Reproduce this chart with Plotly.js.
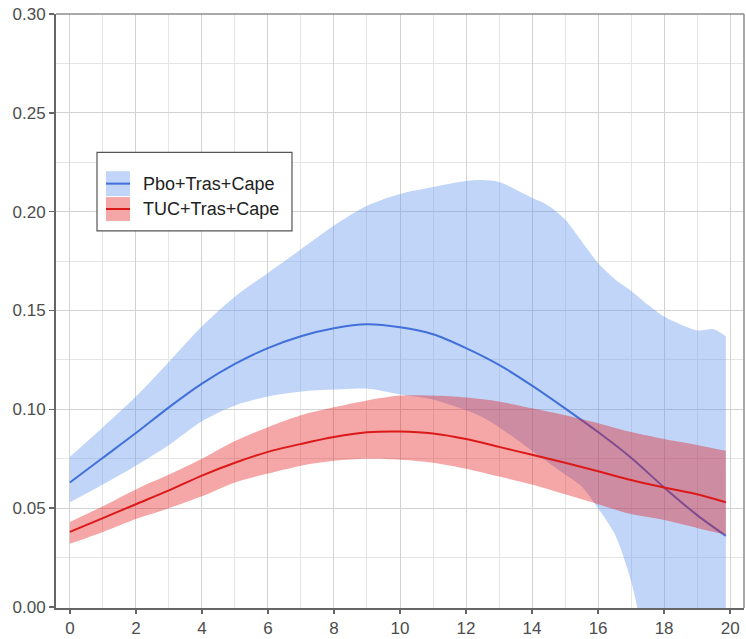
<!DOCTYPE html>
<html>
<head>
<meta charset="utf-8">
<script src="https://cdn.plot.ly/plotly-3.0.1.min.js"></script>
<style>
  html, body { margin: 0; padding: 0; background: #fff; }
  #chart { width: 746px; height: 639px; }
</style>
</head>
<body>
<div id="chart"></div>
<script>
// Pbo+Tras+Cape: mean line and confidence band
const xPboLine = [0, 1, 2, 3, 4, 5, 6, 7, 8, 9, 10, 11, 12, 13, 14, 15, 16, 17, 18, 19, 19.87];
const pboMean = [0.063, 0.0755, 0.088, 0.101, 0.113, 0.123, 0.131, 0.137, 0.141, 0.143, 0.1415,
                 0.138, 0.131, 0.1225, 0.112, 0.1005, 0.0885, 0.0755, 0.0605, 0.0465, 0.036];

const xPboBand = [0, 1, 2, 3, 4, 5, 6, 7, 8, 9, 10, 11, 12, 12.5, 13, 14, 14.5, 15, 15.5, 16,
                  16.5, 17, 17.5, 18, 19, 19.5, 19.87];
const pboUpper = [0.076, 0.091, 0.1065, 0.124, 0.142, 0.157, 0.169, 0.181, 0.193, 0.203, 0.209,
                  0.2125, 0.2155, 0.216, 0.215, 0.207, 0.203, 0.196, 0.185, 0.174,
                  0.166, 0.160, 0.153, 0.147, 0.140, 0.1405, 0.137];
const pboLower = [0.053, 0.062, 0.0715, 0.082, 0.094, 0.102, 0.1065, 0.109, 0.110, 0.1105, 0.1075,
                  0.105, 0.0995, 0.096, 0.091, 0.079, 0.073, 0.067, 0.061, 0.050,
                  0.037, 0.013, -0.025, -0.06, -0.11, -0.13, -0.15];

// TUC+Tras+Cape: mean line and confidence band
const xTuc = [0, 1, 2, 3, 4, 5, 6, 7, 8, 9, 10, 11, 12, 13, 14, 15, 16, 17, 18, 19, 19.87];
const tucMean = [0.038, 0.045, 0.052, 0.059, 0.0665, 0.073, 0.0785, 0.0825, 0.086, 0.0884, 0.0888,
                 0.0878, 0.085, 0.081, 0.077, 0.073, 0.0687, 0.0643, 0.0605, 0.057, 0.053];
const tucUpper = [0.043, 0.051, 0.0595, 0.067, 0.075, 0.084, 0.091, 0.097, 0.101, 0.1045, 0.107,
                  0.107, 0.106, 0.104, 0.1005, 0.097, 0.093, 0.0885, 0.085, 0.082, 0.079];
const tucLower = [0.032, 0.038, 0.0445, 0.050, 0.056, 0.063, 0.0675, 0.0715, 0.074, 0.075, 0.0745,
                  0.073, 0.070, 0.066, 0.062, 0.057, 0.052, 0.047, 0.044, 0.040, 0.0365];

const legendNames = ['Pbo+Tras+Cape', 'TUC+Tras+Cape'];

const blueFill = 'rgba(100,149,237,0.4)';
const blueLine = 'rgb(66,112,218)';
const redFill = 'rgba(230,20,20,0.38)';
const redLine = 'rgb(220,25,25)';

function band(x, lo, hi, fill) {
    return [
        {x: x, y: lo, type: 'scatter', mode: 'lines', line: {width: 0, shape: 'spline', smoothing: 0.8},
         showlegend: false, hoverinfo: 'skip'},
        {x: x, y: hi, type: 'scatter', mode: 'lines', line: {width: 0, shape: 'spline', smoothing: 0.8},
         fill: 'tonexty', fillcolor: fill, showlegend: false, hoverinfo: 'skip'},
    ];
}

function mean(x, y, color) {
    return {x: x, y: y, type: 'scatter', mode: 'lines',
            line: {color: color, width: 2, shape: 'spline', smoothing: 0.8}, showlegend: false};
}

let traces = []
    .concat(band(xPboBand, pboLower, pboUpper, blueFill))
    .concat([mean(xPboLine, pboMean, blueLine)])
    .concat(band(xTuc, tucLower, tucUpper, redFill))
    .concat([mean(xTuc, tucMean, redLine)]);

// legend drawn in the ggplot style: filled key with line through it
const keyFills = [blueFill, redFill];
const keyLines = [blueLine, redLine];
const keyY = [[0.6935, 0.7353], [0.6516, 0.6918]];
let shapes = [
    {type: 'rect', xref: 'paper', yref: 'paper', x0: 0.0596, x1: 0.343, y0: 0.635, y1: 0.767,
     fillcolor: '#ffffff', line: {color: '#555555', width: 1.2}},
    // top and right panel border
    {type: 'line', xref: 'paper', yref: 'paper', x0: 0, x1: 1, y0: 1, y1: 1, line: {color: '#8c8c8c', width: 1.5}},
    {type: 'line', xref: 'paper', yref: 'paper', x0: 1, x1: 1, y0: 0, y1: 1, line: {color: '#8c8c8c', width: 1.5}},
];
let annotations = [];
for (let i = 0; i < legendNames.length; ++i) {
    let [y0, y1] = keyY[i];
    shapes.push({type: 'rect', xref: 'paper', yref: 'paper', x0: 0.0727, x1: 0.1076, y0: y0, y1: y1,
                 fillcolor: keyFills[i], line: {width: 0}});
    shapes.push({type: 'line', xref: 'paper', yref: 'paper', x0: 0.0727, x1: 0.1076,
                 y0: (y0 + y1) / 2, y1: (y0 + y1) / 2, line: {color: keyLines[i], width: 2}});
    annotations.push({xref: 'paper', yref: 'paper', x: 0.1235, y: (y0 + y1) / 2, xanchor: 'left',
                      yanchor: 'middle', showarrow: false, text: legendNames[i],
                      font: {family: 'Liberation Sans, Arial, sans-serif', size: 18, color: '#222222'}});
}

const tickFont = {family: 'Liberation Sans, Arial, sans-serif', size: 17, color: '#4d4d4d'};

let layout = {
    width: 746,
    height: 639,
    margin: {l: 56, r: 2, t: 14, b: 31},
    paper_bgcolor: '#ffffff',
    plot_bgcolor: '#ffffff',
    showlegend: false,
    xaxis: {
        range: [-0.42, 20.42],
        tick0: 0, dtick: 2,
        showgrid: true, gridcolor: '#d2d2d2', gridwidth: 1,
        minor: {dtick: 1, showgrid: true, gridcolor: '#e6e6e6', gridwidth: 1},
        zeroline: false,
        showline: true, linecolor: '#666666', linewidth: 2,
        ticks: 'outside', ticklen: 4, tickcolor: '#666666', tickwidth: 1.5,
        tickfont: tickFont,
    },
    yaxis: {
        range: [-0.0005, 0.3],
        tick0: 0, dtick: 0.05, tickformat: '.2f',
        showgrid: true, gridcolor: '#d2d2d2', gridwidth: 1,
        minor: {dtick: 0.025, showgrid: true, gridcolor: '#e6e6e6', gridwidth: 1},
        zeroline: false,
        showline: true, linecolor: '#666666', linewidth: 2,
        ticks: 'outside', ticklen: 5, tickcolor: '#666666', tickwidth: 1.5,
        tickfont: tickFont,
    },
    shapes: shapes,
    annotations: annotations,
};

Plotly.newPlot('chart', traces, layout, {displayModeBar: false, staticPlot: true});
</script>
</body>
</html>
